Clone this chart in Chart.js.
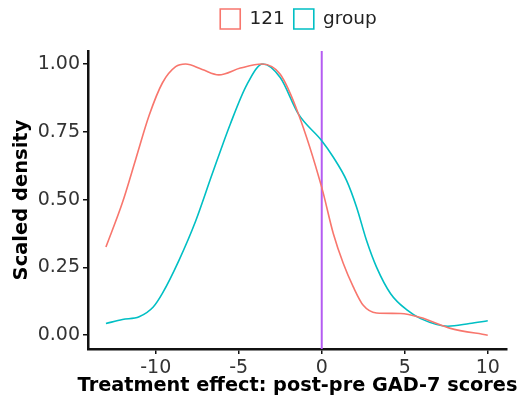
<!DOCTYPE html>
<html>
<head>
<meta charset="utf-8">
<script src="https://cdn.jsdelivr.net/npm/chart.js@4"></script>
<style>
  html, body { margin: 0; padding: 0; background: #fff; }
  #wrap { width: 520px; height: 406px; }
</style>
</head>
<body>
<div id="wrap"><canvas id="myChart" width="520" height="406"></canvas></div>
<script>
// density curves
var seriesNames = ['121', 'group'];
var x121 = [-13, -12.0, -11.2, -10.4, -9.6, -8.8, -8.2, -7.2, -6.2, -4.9, -3.6, -2.5, -1.4, 0, 0.7, 1.3, 1.9, 2.5, 3.3, 4.75, 5.96, 7.7, 10];
var y121 = [0.325, 0.49, 0.65, 0.81, 0.93, 0.99, 1.0, 0.98, 0.96, 0.985, 1.0, 0.962, 0.815, 0.545, 0.374, 0.264, 0.178, 0.11, 0.082, 0.08, 0.065, 0.026, 0.0];
var xGroup = [-13, -12, -11, -10.15, -9.6, -8.6, -7.6, -6.6, -5.5, -4.5, -3.55, -2.5, -1.4, 0, 0.7, 1.5, 2.1, 2.7, 3.3, 4.15, 5.15, 5.96, 7.6, 8.9, 10];
var yGroup = [0.043, 0.058, 0.068, 0.104, 0.154, 0.276, 0.42, 0.594, 0.78, 0.925, 1.0, 0.95, 0.815, 0.717, 0.656, 0.57, 0.472, 0.349, 0.251, 0.153, 0.092, 0.061, 0.033, 0.043, 0.053];
var vlineX = 0;
var xTicks = [-10, -5, 0, 5, 10];
var yTicks = [0, 0.25, 0.5, 0.75, 1.0];
var xMin = -14.08, xMax = 11.16;
var yMin = -0.051, yMax = 1.048;
var xTitle = 'Treatment effect: post-pre GAD-7 scores';
var yTitle = 'Scaled density';

function pts(xs, ys) {
  var out = [];
  for (var i = 0; i < xs.length; i++) out.push({ x: xs[i], y: ys[i] });
  return out;
}

var tickFont = { family: 'DejaVu Sans', size: 19 };
var titleFont = { family: 'DejaVu Sans', size: 19.5, weight: 'bold' };

// legend sits right of centre and leaves a gap under it
var legendNudge = {
  id: 'legendNudge',
  afterInit: function (chart) {
    var lg = chart.legend;
    var fit = lg.fit;
    lg.fit = function () {
      fit.call(this);
      this.height += 12;
    };
  },
  afterLayout: function (chart) {
    chart.legend.left += 41;
    chart.legend.right += 41;
  }
};

// x title is wider than the axis, chart.js would squeeze it, so draw it here
var xTitlePlugin = {
  id: 'xTitlePlugin',
  afterDraw: function (chart) {
    var c = chart.ctx;
    var a = chart.chartArea;
    c.save();
    c.font = 'bold 19.3px "DejaVu Sans"';
    c.fillStyle = '#000';
    c.textAlign = 'center';
    c.textBaseline = 'alphabetic';
    c.fillText(xTitle, (a.left + a.right) / 2, chart.scales.x.bottom - 6.5);
    c.restore();
  }
};

const ctx = document.getElementById('myChart').getContext('2d');
const myChart = new Chart(ctx, {
  type: 'line',
  data: {
    datasets: [{
      label: seriesNames[0],
      data: pts(x121, y121),
      borderColor: '#F8766D',
      backgroundColor: 'rgba(255,255,255,0)',
      borderWidth: 1.6,
      pointRadius: 0,
      cubicInterpolationMode: 'monotone'
    }, {
      label: seriesNames[1],
      data: pts(xGroup, yGroup),
      borderColor: '#00BFC4',
      backgroundColor: 'rgba(255,255,255,0)',
      borderWidth: 1.6,
      pointRadius: 0,
      cubicInterpolationMode: 'monotone'
    }, {
      label: 'vline',
      data: [{ x: vlineX, y: yMin }, { x: vlineX, y: yMax }],
      borderColor: '#B45CF2',
      borderWidth: 2,
      pointRadius: 0
    }]
  },
  plugins: [legendNudge, xTitlePlugin],
  options: {
    responsive: false,
    animation: false,
    layout: { padding: { left: 8, right: 13, top: 0, bottom: 9 } },
    plugins: {
      tooltip: { enabled: false },
      legend: {
        position: 'top',
        labels: {
          filter: function (item) { return item.text !== 'vline'; },
          color: '#222',
          font: { family: 'DejaVu Sans', size: 18.5 },
          boxWidth: 20,
          boxHeight: 20,
          padding: 9
        }
      }
    },
    scales: {
      x: {
        type: 'linear',
        min: xMin,
        max: xMax,
        afterBuildTicks: function (axis) {
          axis.ticks = xTicks.map(function (v) { return { value: v }; });
        },
        afterFit: function (axis) { axis.height = 48; },
        ticks: { color: '#333', font: tickFont, padding: 3, maxRotation: 0 },
        grid: { display: true, drawOnChartArea: false, drawTicks: true, tickLength: 5, color: '#111', lineWidth: 1.5 },
        border: { display: true, color: '#111', width: 2.5 },
        title: { display: false }
      },
      y: {
        type: 'linear',
        min: yMin,
        max: yMax,
        afterBuildTicks: function (axis) {
          axis.ticks = yTicks.map(function (v) { return { value: v }; });
        },
        afterFit: function (axis) { axis.width = 80; },
        ticks: {
          color: '#333', font: tickFont, padding: 3,
          callback: function (v) { return v.toFixed(2); }
        },
        grid: { display: true, drawOnChartArea: false, drawTicks: true, tickLength: 5, color: '#111', lineWidth: 1.5 },
        border: { display: true, color: '#111', width: 2.5 },
        title: { display: true, text: yTitle, color: '#000', font: titleFont, padding: { top: 2, bottom: 0 } }
      }
    }
  }
});
</script>
</body>
</html>
